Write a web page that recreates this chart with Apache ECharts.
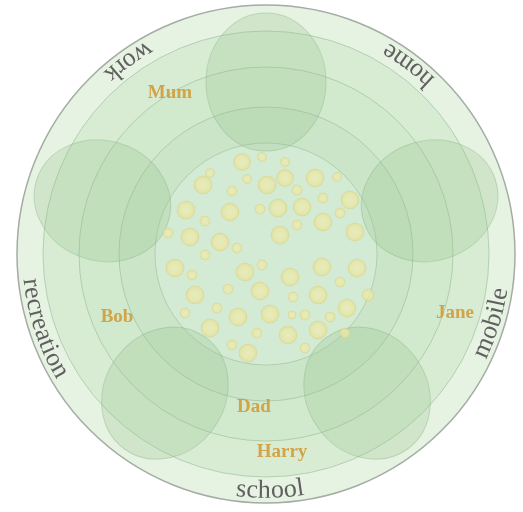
<!DOCTYPE html>
<html><head><meta charset="utf-8">
<script src="https://cdn.jsdelivr.net/npm/echarts@6/dist/echarts.min.js"></script>
<style>html,body{margin:0;padding:0;background:#fff}#c{width:523px;height:512px}</style>
</head><body><div id="c"></div>
<script>
// ---- data ----
const categories = ['home', 'work', 'recreation', 'school', 'mobile'];
const categoryAngles = [53, 125.5, 198.5, 271, 343];
const petalAngles = [90, 162, 234, 306, 18];
const petalDistance = [172, 172, 172, 172, 172];
const people = ['Mum', 'Bob', 'Jane', 'Dad', 'Harry'];
const peopleX = [170, 117, 455, 254, 282];
const peopleY = [93, 317, 313, 407, 452];
const bubbleX = [242,262,285,210,247,203,267,285,315,337,232,297,323,350,186,230,260,278,302,340,205,297,323,168,190,220,280,355,237,205,175,192,245,262,290,322,357,340,228,195,260,293,318,368,217,185,238,270,292,305,330,347,210,257,288,318,345,232,248,305];
const bubbleY = [162,157,162,173,179,185,185,178,178,177,191,190,198,200,210,212,209,208,207,213,221,225,222,233,237,242,235,232,248,255,268,275,272,265,277,267,268,282,289,295,291,297,295,295,308,313,317,314,315,315,317,308,328,333,335,330,333,345,353,348];
const bubbleSize = [17,9,9,9,9,18,18,17,18,9,10,10,10,18,18,18,10,18,18,10,10,10,18,10,18,18,18,18,10,10,18,10,18,10,18,18,18,10,10,18,18,10,18,12,10,10,18,18,8,10,10,18,18,10,18,18,10,10,18,10];

// ---- layout / style ----
const CX = 266, CY = 254, R = 249;
const rings = [
  {r: 249, color: '#e6f2e2', border: '#a3ada3', bw: 1.5},
  {r: 223, color: '#d8ecd4', border: 'rgba(145,182,145,0.55)', bw: 1},
  {r: 187, color: '#d1e9cd', border: 'rgba(145,182,145,0.55)', bw: 1},
  {r: 147, color: '#cbe5c8', border: 'rgba(145,182,145,0.55)', bw: 1},
  {r: 111, color: '#d3ebd4', border: 'rgba(145,182,145,0.5)', bw: 1}
];
const labelFont = '26px "Liberation Serif", serif';
const labelRadius = 237;

const canvas = document.createElement('canvas');
const ctx = canvas.getContext('2d');
ctx.font = labelFont;
const charItems = [];
categories.forEach((word, k) => {
  const widths = word.split('').map(ch => ctx.measureText(ch).width);
  const total = widths.reduce((a, b) => a + b, 0);
  const start = categoryAngles[k] - (total / 2) / labelRadius * 180 / Math.PI;
  let cum = 0;
  word.split('').forEach((ch, i) => {
    const a = start + (cum + widths[i] / 2) / labelRadius * 180 / Math.PI;
    charItems.push({ch: ch, angle: a});
    cum += widths[i];
  });
});

const bubbleData = bubbleX.map((x, i) => [x, bubbleY[i], bubbleSize[i]]);
const bubbleColor = new echarts.graphic.RadialGradient(0.5, 0.5, 0.5, [
  {offset: 0, color: 'rgba(238,236,178,0.7)'},
  {offset: 0.65, color: 'rgba(236,230,160,0.72)'},
  {offset: 1, color: 'rgba(222,214,135,0.6)'}
]);

const chart = echarts.init(document.getElementById('c'), null, {renderer: 'canvas'});
chart.setOption({
  animation: false,
  backgroundColor: '#ffffff',
  grid: {left: 0, right: 0, top: 0, bottom: 0},
  xAxis: {type: 'value', min: 0, max: 523, show: false},
  yAxis: {type: 'value', min: 0, max: 512, inverse: true, show: false},
  polar: {center: [CX, CY], radius: R},
  angleAxis: {type: 'value', min: 0, max: 360, startAngle: 0, clockwise: false, show: false},
  radiusAxis: {type: 'value', min: 0, max: R, show: false},
  series: [
    {
      type: 'scatter', coordinateSystem: 'polar', z: 1, silent: true,
      symbol: 'circle',
      data: rings.map(g => ({
        value: [0, 0], symbolSize: g.r * 2,
        itemStyle: {color: g.color, borderColor: g.border, borderWidth: g.bw, opacity: 1}
      }))
    },
    {
      type: 'scatter', coordinateSystem: 'polar', z: 2, silent: true,
      symbol: 'path://M50,0A50,50,0,1,1,50,100A50,50,0,1,1,50,0Z',
      symbolSize: [120, 138],
      itemStyle: {color: 'rgba(148,196,138,0.33)', borderColor: 'rgba(130,172,125,0.45)', borderWidth: 1},
      data: petalAngles.map((a, i) => ({value: [petalDistance[i], a], symbolRotate: a - 90}))
    },
    {
      type: 'scatter', z: 3, silent: true,
      data: bubbleData,
      symbolSize: v => v[2],
      itemStyle: {color: bubbleColor, borderColor: 'rgba(220,208,125,0.45)', borderWidth: 1, opacity: 1}
    },
    {
      type: 'scatter', z: 4, silent: true,
      symbolSize: 1,
      itemStyle: {color: 'rgba(0,0,0,0)'},
      data: people.map((n, i) => ({name: n, value: [peopleX[i], peopleY[i]]})),
      label: {
        show: true, position: 'inside', formatter: p => p.name,
        fontFamily: '"Liberation Serif", serif', fontWeight: 'bold', fontSize: 19, color: '#cf9226'
      }
    },
    {
      type: 'custom', coordinateSystem: 'polar', z: 5, silent: true,
      data: charItems.map(c => [labelRadius, c.angle]),
      renderItem: function (params, api) {
        const ang = api.value(1);
        const p = api.coord([api.value(0), ang]);
        return {
          type: 'text', x: p[0], y: p[1],
          rotation: (ang + 90) * Math.PI / 180,
          style: {
            text: charItems[params.dataIndex].ch, font: labelFont,
            fill: '#606060', align: 'center', verticalAlign: 'middle'
          }
        };
      }
    }
  ]
});
</script>
</body></html>
